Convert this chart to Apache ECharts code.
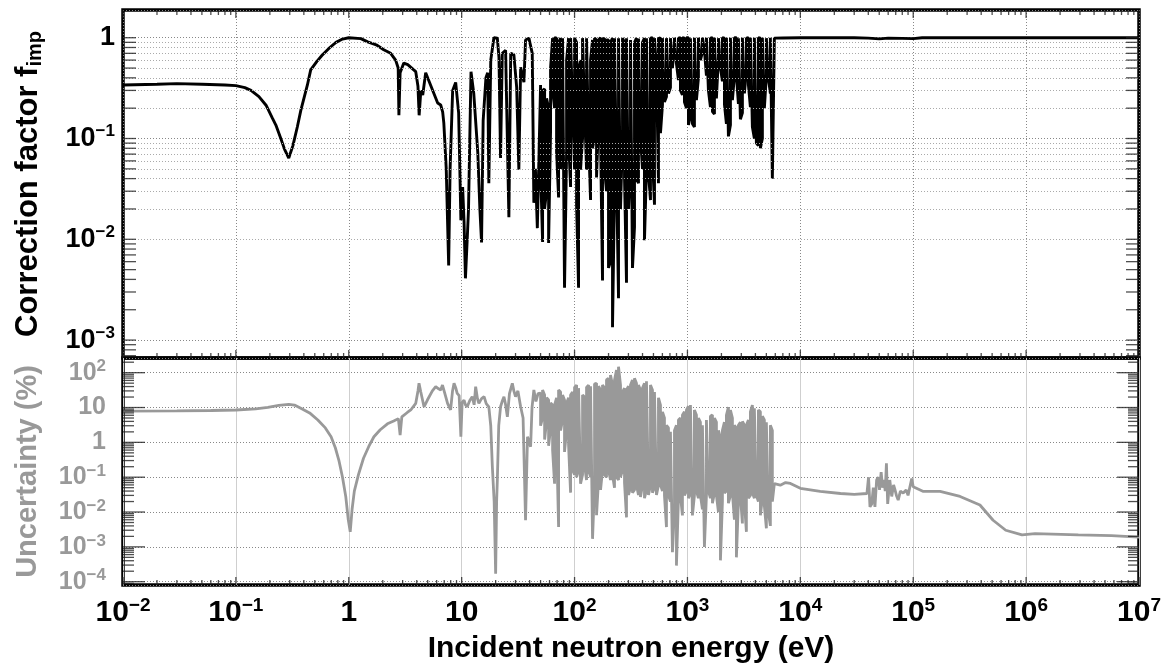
<!DOCTYPE html>
<html><head><meta charset="utf-8">
<script src="https://cdn.jsdelivr.net/npm/echarts@6/dist/echarts.min.js"></script>
<style>html,body{margin:0;padding:0;background:#fff}#c{width:1169px;height:670px}</style>
</head><body><div id="c"></div>
<script>
// ---------- data (energy in eV) ----------
// correction factor f_imp, explicit points below 50 eV
const fimpLowE = [[0.01,0.34],[0.02,0.345],[0.03,0.35],[0.05,0.345],[0.08,0.34],[0.1,0.335],[0.12,0.32],[0.136,0.3],[0.16,0.26],[0.185,0.214],[0.21,0.16],[0.226,0.136],[0.25,0.1],[0.27,0.078],[0.294,0.064],[0.32,0.085],[0.35,0.13],[0.376,0.19],[0.43,0.34],[0.46,0.48],[0.52,0.58],[0.58,0.67],[0.68,0.8],[0.77,0.9],[0.88,0.97],[1.0,1.0],[1.28,0.98],[1.47,0.91],[1.75,0.85],[2.04,0.76],[2.35,0.7],[2.6,0.6],[2.74,0.5],[2.78,0.17],[2.85,0.45],[3.07,0.56],[3.33,0.54],[3.92,0.46],[4.1,0.33],[4.2,0.17],[4.35,0.3],[4.52,0.27],[4.8,0.45],[5.54,0.3],[6.13,0.225],[6.52,0.215],[6.79,0.183],[6.95,0.142],[7.3,0.05],[7.67,0.0055],[7.9,0.05],[8.32,0.3],[8.85,0.36],[9.4,0.18],[9.6,0.06],[9.84,0.0155],[10.2,0.033],[10.5,0.015],[10.8,0.0041],[11.2,0.01],[11.5,0.02],[12.1,0.46],[12.8,0.28],[13.9,0.072],[14.5,0.02],[15.0,0.0093],[15.5,0.15],[16.4,0.4],[17.0,0.45],[17.4,0.036],[18.1,0.6],[19.3,1.0],[20.7,0.99],[21.4,0.64],[22.1,0.064],[22.9,0.7],[24.5,0.75],[26.2,0.0166],[27.2,0.7],[29.0,0.68],[30.7,0.324],[32.1,0.049],[33.3,0.51],[35.6,0.363],[36.8,0.95],[39.4,0.99],[42.2,0.7],[43.6,0.023],[45.0,0.05],[46.8,0.0129]];

// sampling energies of the dense resonance region (50 eV - 5.7 keV)
const bandE = [50.0,52.1,54.3,56.5,58.9,61.3,63.9,66.5,69.3,72.2,
75.2,78.3,81.5,85.0,88.5,92.2,96.0,100,104.2,108.5,
113.0,117.7,122.6,127.7,133.0,138.6,144.3,150.3,156.6,163.1,
169.9,176.9,184.3,191.9,199.9,208.2,216.9,225.9,235.3,245.1,
255.3,265.9,277.0,288.5,300.5,313.0,326.0,339.6,353.7,368.4,
383.7,399.7,416.3,433.6,451.6,470.4,490.0,510.5,531.6,553.7,
576.8,600.8,625.7,651.8,678.9,707.1,736.5,767.4,799.0,832.3,
867.0,903.0,940.8,979.9,1021,1063,1107,1153,1201,1251,
1303,1358,1414,1473,1534,1598,1665,1734,1806,1882,
1960,2041,2126,2215,2307,2403,2503,2606,2715,2828,
2945,3068,3195,3328,3467,3611,3761,3917,4080,4250,
4427,4611,4802,5002,5210,5427,5652];

// f_imp upper / lower extremes at each bandE
const fimpBandHi = [0.34,0.3,0.31,0.25,0.2,0.5,0.99,1.0,0.99,0.9,
0.99,0.99,0.99,0.6,0.99,0.99,0.99,0.99,0.9,0.5,
0.6,0.99,0.99,0.99,0.95,0.6,0.95,0.99,0.95,0.95,
1.0,0.98,0.98,0.95,0.95,0.9,0.99,0.99,0.99,0.99,
0.99,0.99,0.9,0.99,0.98,0.95,0.95,0.9,0.99,0.98,
0.98,0.9,0.99,0.99,0.99,
0.99,1.0,0.99,1.0,0.98,1.0,0.99,1.0,0.99,1.0,
0.99,1.0,1.0,1.0,0.99,1.0,1.0,0.99,1.0,1.0,
0.99,1.0,1.0,0.99,1.0,1.0,1.0,0.99,1.0,1.0,
0.99,1.0,1.0,1.0,0.99,1.0,1.0,0.99,1.0,1.0,
1.0,0.99,1.0,1.0,0.99,1.0,1.0,1.0,0.99,1.0,
1.0,0.99,1.0,1.0,1.0,0.99,1.0,1.0,0.99,1.0,
1.0,0.99];
const fimpBandLo = [0.05,0.0094,0.02,0.03,0.0092,0.12,0.3,0.2,0.073,0.026,
0.05,0.15,0.0033,0.072,0.1,0.033,0.2,0.05,0.022,0.0033,
0.049,0.1,0.2,0.049,0.1,0.0245,0.08,0.1,0.041,0.15,
0.1,0.0039,0.05,0.03,0.0052,0.006,0.00134,0.03,0.045,0.0026,
0.02,0.103,0.041,0.0037,0.02,0.061,0.0052,0.0132,0.04,0.036,
0.103,0.05,0.0098,0.05,0.045,
0.0245,0.065,0.022,0.5,0.036,0.113,0.215,0.23,0.26,0.28,0.32,0.5,0.9,
0.55,0.38,0.30,0.27,0.23,0.2,0.136,0.17,0.14,0.13,0.24,0.40,0.60,0.72,0.75,0.42,0.30,0.205,0.185,0.175,0.25,0.65,0.5,0.37,0.22,0.14,0.105,0.136,0.24,0.42,0.42,0.22,0.155,0.18,0.28,0.47,0.34,0.205,0.13,0.10,0.09,0.085,0.08,0.1,0.2,0.42,0.4,0.28,0.04];

const fimpHighE = [[5888,0.99],[7000,0.995],[10000,1.0],[30000,1.0],[40000,0.99],[50000,0.975],[60000,0.99],[80000,0.985],[100000,0.98],[120000,1.0],[1000000,1.0],[10000000,1.0]];

// uncertainty (%)
const uncLowE = [[0.01,7.9],[0.03,8.0],[0.06,8.2],[0.1,8.5],[0.15,9.2],[0.192,10.1],[0.24,11.5],[0.294,12.4],[0.33,11.8],[0.376,9.5],[0.45,7.0],[0.532,4.4],[0.62,2.6],[0.697,1.45],[0.76,0.7],[0.816,0.31],[0.88,0.1],[0.94,0.028],[0.99,0.006],[1.03,0.0027],[1.07,0.012],[1.12,0.04],[1.22,0.12],[1.35,0.35],[1.5,0.75],[1.67,1.45],[1.9,2.3],[2.2,3.4],[2.5,4.1],[2.75,4.8],[2.85,1.62],[2.95,5.4],[3.3,7.2],[3.54,8.5],[3.92,13.2],[4.1,30],[4.19,49.6],[4.34,28.4],[4.64,10.5],[4.97,16.4],[5.5,30],[5.89,39.6],[6.2,35],[6.52,31.8],[6.76,44.3],[7.1,25],[7.5,13.2],[7.98,8.5],[8.3,30],[8.56,49.6],[8.9,35],[9.13,25.6],[9.5,22],[9.84,1.45],[10.1,14],[10.5,16.4],[10.8,12],[11.2,10.5],[11.8,16],[12.4,20.5],[12.9,12],[13.3,39.6],[13.8,18],[14.2,13.2],[15.0,18],[15.8,20.5],[16.5,13],[17.4,10.5],[18.1,3],[18.7,0.2],[19.4,0.02],[20.0,0.00017],[20.4,0.02],[20.7,0.083],[21.3,3],[22.1,10.5],[23.0,16],[23.7,20.5],[24.5,12],[25.4,5.4],[26.5,25],[28.1,49.6],[29.0,30],[30.0,20.5],[31.5,30],[33.3,10.5],[35,5],[36.8,0.0058],[38.3,1.45],[40.8,0.75],[42,10],[43.6,31.8],[45.5,15],[47.5,25]];

const uncBandHi = [26,32,23,19,16.4,13.5,11.8,11.8,19,32,
28,23,16.4,13.5,19,23,28,38,44,36,
32,23,20,38,44,41,44,47,50,41,
32,44,36,62,69,86,44,62,120,149,
44,28,36,32,41,44,62,69,50,44,
32,36,50,57,62,44,32,28,28,19,
11.8,7.5,5.0,3.1,2.6,2.0,1.9,2.2,3.1,4.4,
5.0,6.1,7.5,8.5,10.9,11.8,11.8,8.5,6.1,5.0,
3.8,3.1,3.5,4.4,5.0,5.6,6.1,5.0,3.8,2.2,
1.4,2.2,3.8,6.1,10.2,8.5,5.0,3.1,2.6,3.1,
3.8,4.0,3.1,3.1,4.4,7.5,11.8,9.5,8.5,8.5,
7.5,5.6,4.4,3.8,3.5,3.1,2.2];
const uncBandLo = [3,5,1.2,4,0.8,2.5,0.6,0.065,1.17,0.0037,
2.2,4.4,0.53,2.2,0.84,0.036,0.16,0.117,0.1,0.16,
0.065,0.117,0.22,0.083,0.16,0.1,0.0017,0.059,0.0081,0.083,
0.043,0.16,0.117,0.1,0.16,0.083,0.117,0.05,0.1,0.083,
0.1,0.16,0.07,0.007,0.031,0.05,0.036,0.043,0.059,0.031,
0.027,0.059,0.025,0.043,0.031,0.059,0.036,0.05,0.031,0.059,
0.06,0.04,0.03,0.0037,0.03,0.02,0.0007,0.012,0.00029,0.025,
0.03,0.008,0.03,0.04,0.025,0.035,0.008,0.03,0.04,0.025,
0.03,0.012,0.001,0.03,0.04,0.025,0.018,0.035,0.03,0.01,
0.00041,0.02,0.035,0.04,0.018,0.03,0.035,0.006,0.0005,0.02,
0.03,0.0047,0.02,0.0027,0.025,0.03,0.035,0.025,0.03,0.02,
0.0081,0.025,0.015,0.0034,0.01,0.004,0.02];

const uncHighE = [[5888,0.065],[6650,0.059],[7400,0.07],[8170,0.066],[10000,0.048],[15000,0.039],[22700,0.034],[30000,0.032],[38900,0.034],[40200,0.1],[41400,0.0141],[42900,0.017],[44300,0.05],[45800,0.0141],[47400,0.083],[49000,0.1],[50300,0.043],[52000,0.14],[53500,0.05],[55000,0.083],[56500,0.04],[57900,0.25],[59400,0.017],[62000,0.083],[64500,0.028],[67000,0.06],[69000,0.043],[71000,0.03],[73600,0.022],[77000,0.04],[81500,0.035],[86600,0.043],[90000,0.03],[97000,0.092],[100000,0.053],[123000,0.039],[173000,0.039],[260000,0.028],[390000,0.0159],[510000,0.0058],[660000,0.003],[920000,0.0022],[1200000,0.0024],[2900000,0.0022],[5700000,0.0021],[10000000,0.0019]];

// axis ranges
const X_MIN = 0.01, X_MAX = 1e7;
const Y0_MIN = 6.64e-4, Y0_MAX = 1.884;
const Y1_MIN = 8.04e-5, Y1_MAX = 264;

// ---------- build ----------
function band(Es, hi, lo) {
  const out = [];
  for (let i = 0; i < Es.length; i++) {
    if (i % 2 === 0) { out.push([Es[i], hi[i]], [Es[i], lo[i]]); }
    else { out.push([Es[i], lo[i]], [Es[i], hi[i]]); }
  }
  return out;
}
const fimpData = fimpLowE.concat(band(bandE, fimpBandHi, fimpBandLo), fimpHighE);
const uncData = uncLowE.concat(band(bandE, uncBandHi, uncBandLo), uncHighE);

function decadeTicks(lo, hi) {
  const out = [];
  for (let k = Math.floor(Math.log10(lo)); k <= Math.ceil(Math.log10(hi)); k++) {
    for (let m = 1; m <= 9; m++) {
      const v = m * Math.pow(10, k);
      if (v >= lo * 0.999999 && v <= hi * 1.000001) out.push({ v: v, major: m === 1 });
    }
  }
  return out;
}
const TC = '#222';
function tickItem(x, y, w, h, dx, dy) {
  return { value: [x, y], symbolSize: [w, h], symbolOffset: [dx, dy] };
}
const xt = decadeTicks(X_MIN, X_MAX);
const y0t = decadeTicks(Y0_MIN, Y0_MAX);
const y1t = decadeTicks(Y1_MIN, Y1_MAX);
const ticks0 = [], ticks1 = [];
xt.forEach(t => {
  const L = t.major ? 8 : 5;
  ticks0.push(tickItem(t.v, Y0_MAX, 1.3, L, 0, L / 2));
  ticks0.push(tickItem(t.v, Y0_MIN, 1.3, L, 0, -L / 2));
  ticks1.push(tickItem(t.v, Y1_MIN, 1.3, L, 0, -L / 2));
});
y0t.forEach(t => {
  const L = 13;
  ticks0.push(tickItem(X_MIN, t.v, L, 1.3, L / 2, 0));
  ticks0.push(tickItem(X_MAX, t.v, L, 1.3, -L / 2, 0));
});
y1t.forEach(t => {
  const L = t.major ? 22 : 11;
  ticks1.push(tickItem(X_MIN, t.v, L, 1.3, L / 2, 0));
  ticks1.push(tickItem(X_MAX, t.v, L, 1.3, -L / 2, 0));
});
const minorY0 = y0t.filter(t => !t.major).map(t => ({ yAxis: t.v }));

const FONT = '"Liberation Sans", Arial, Helvetica, sans-serif';
function powLabel(v) {
  const l = Math.log10(v), e = Math.round(l);
  if (Math.abs(l - e) > 1e-6) return '';
  if (e === 0) return '{m|1}';
  if (e === 1) return '{m|10}';
  return '{m|10}{s|' + (e < 0 ? '\u2212' + (-e) : String(e)) + '}';
}
function richFor(color, big, small) {
  return {
    m: { fontSize: big, fontWeight: 'bold', color: color, fontFamily: FONT, lineHeight: big + 4 },
    s: { fontSize: small, fontWeight: 'bold', color: color, fontFamily: FONT, verticalAlign: 'top', lineHeight: small }
  };
}
const GRAY = '#999999';

const chart = echarts.init(document.getElementById('c'), null, { renderer: 'canvas' });
chart.setOption({
  animation: false,
  backgroundColor: '#fff',
  grid: [
    { left: 123, right: 30, top: 10, height: 348, show: true, borderColor: '#000', borderWidth: 3.5, backgroundColor: 'transparent' },
    { left: 123, right: 30, top: 358, height: 227, show: true, borderColor: '#000', borderWidth: 3.5, backgroundColor: 'transparent' }
  ],
  xAxis: [
    { type: 'log', gridIndex: 0, min: X_MIN, max: X_MAX, axisLine: { show: false }, axisTick: { show: false },
      axisLabel: { show: false }, splitLine: { show: true, lineStyle: { color: '#888', type: [1, 2], width: 1 } } },
    { type: 'log', gridIndex: 1, min: X_MIN, max: X_MAX, axisLine: { show: false }, axisTick: { show: false },
      axisLabel: { show: true, margin: 11, formatter: powLabel, rich: richFor('#000', 30, 19) },
      splitLine: { show: true, lineStyle: { color: '#cfcfcf', type: 'solid', width: 1 } },
      name: 'Incident neutron energy (eV)', nameLocation: 'middle', nameGap: 49,
      nameTextStyle: { fontSize: 30, fontWeight: 'bold', color: '#000', fontFamily: FONT } }
  ],
  yAxis: [
    { type: 'log', gridIndex: 0, min: Y0_MIN, max: Y0_MAX, axisLine: { show: false }, axisTick: { show: false },
      axisLabel: { show: true, margin: 8, formatter: powLabel, rich: richFor('#000', 27, 17) },
      splitLine: { show: true, lineStyle: { color: '#888', type: [1, 2], width: 1 } },
      name: '{m|Correction factor f}{s|imp}', nameLocation: 'middle', nameGap: 78,
      nameTextStyle: { rich: {
        m: { fontSize: 31, fontWeight: 'bold', color: '#000', fontFamily: FONT, lineHeight: 34 },
        s: { fontSize: 20, fontWeight: 'bold', color: '#000', fontFamily: FONT, verticalAlign: 'bottom', lineHeight: 20 } } } },
    { type: 'log', gridIndex: 1, min: Y1_MIN, max: Y1_MAX, axisLine: { show: false }, axisTick: { show: false },
      axisLabel: { show: true, margin: 17, formatter: powLabel, rich: richFor(GRAY, 25, 17) },
      splitLine: { show: true, lineStyle: { color: '#888', type: [1, 2], width: 1 } },
      name: 'Uncertainty (%)', nameLocation: 'middle', nameGap: 81,
      nameTextStyle: { fontSize: 29, fontWeight: 'bold', color: GRAY, fontFamily: FONT } }
  ],
  series: [
    { type: 'scatter', xAxisIndex: 0, yAxisIndex: 0, data: [], z: 1, silent: true,
      markLine: { silent: true, symbol: ['none', 'none'], label: { show: false }, animation: false,
        lineStyle: { color: '#aaa', type: [1, 2], width: 1 }, emphasis: { disabled: true }, data: minorY0 } },
    { name: 'f_imp', type: 'line', xAxisIndex: 0, yAxisIndex: 0, data: fimpData, showSymbol: false, symbol: 'none',
      z: 3, lineStyle: { color: '#000', width: 2.9 }, silent: true },
    { name: 'uncertainty', type: 'line', xAxisIndex: 1, yAxisIndex: 1, data: uncData, showSymbol: false, symbol: 'none',
      z: 3, lineStyle: { color: GRAY, width: 2.8 }, silent: true },
    { type: 'scatter', xAxisIndex: 0, yAxisIndex: 0, data: ticks0, symbol: 'rect', clip: false, silent: true, z: 6,
      itemStyle: { color: TC } },
    { type: 'scatter', xAxisIndex: 1, yAxisIndex: 1, data: ticks1, symbol: 'rect', clip: false, silent: true, z: 6,
      itemStyle: { color: TC } }
  ]
});
</script>
</body></html>
